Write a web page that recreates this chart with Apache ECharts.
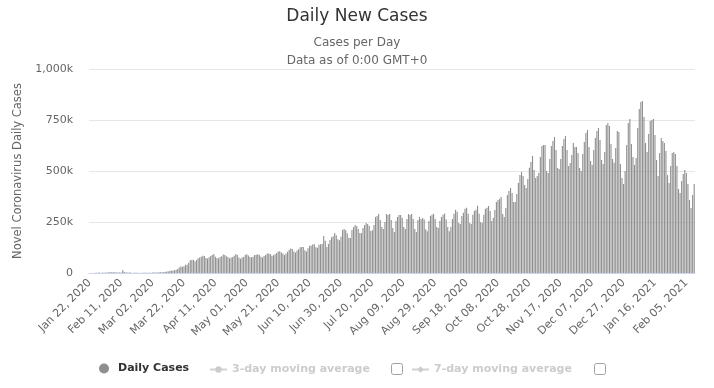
<!DOCTYPE html>
<html><head><meta charset="utf-8">
<script src="https://cdn.jsdelivr.net/npm/echarts@6/dist/echarts.min.js"></script>
<style>html,body{margin:0;padding:0;background:#fff}#c{width:714px;height:388px}</style>
</head><body><div id="c"></div>
<script>
// Daily new cases, in thousands, one value per day starting Jan 22, 2020
const cases2020Jan = [0, 0.1, 0.3, 0.5, 0.7, 0.8, 2.7, 0.6, 2.1, 1.7];
const cases2020Feb = [2.1, 2.6, 3.1, 4.0, 3.7, 3.2, 3.5, 2.7, 3.0, 2.5, 2.0, 13.0, 5.5, 2.7, 2.1, 2.1, 1.9, 0.5, 0.9, 1.0, 1.0, 0.6, 0.6, 0.9, 1.0, 1.2, 1.4, 1.8, 1.8];
const cases2020Mar = [1.7, 1.9, 2.4, 2.2, 2.8, 3.9, 3.9, 4.2, 4.0, 4.5, 7.4, 7.6, 10.9, 11.0, 12.0, 14.0, 16.0, 19.7, 27.0, 32.0, 31.0, 33.0, 40.0, 41.0, 49.0, 62.0, 64.0, 65.0, 58.0, 63.0, 72.0];
const cases2020Apr = [76, 80, 84, 83, 74, 71, 77, 83, 88, 93, 80, 74, 72, 78, 82, 91, 88, 82, 78, 72, 76, 78, 85, 93, 88, 76, 70, 76, 79, 88];
const cases2020May = [92, 86, 78, 77, 80, 88, 90, 92, 88, 80, 76, 83, 88, 96, 96, 93, 85, 87, 92, 98, 106, 107, 100, 95, 88, 95, 104, 114, 120, 118, 106];
const cases2020Jun = [100, 110, 117, 126, 127, 128, 111, 105, 121, 133, 134, 140, 141, 126, 124, 139, 141, 142, 181, 158, 128, 142, 162, 175, 180, 196, 185, 165, 160, 178];
const cases2020Jul = [211, 216, 210, 195, 172, 172, 211, 225, 235, 230, 216, 196, 196, 220, 235, 245, 240, 230, 206, 210, 235, 274, 280, 289, 260, 225, 216, 250, 289, 284, 289];
const cases2020Aug = [260, 221, 201, 255, 275, 284, 284, 271, 225, 216, 265, 289, 284, 289, 265, 216, 201, 260, 275, 265, 270, 262, 215, 205, 255, 280, 285, 290, 265, 225, 220];
const cases2020Sep = [255, 275, 285, 292, 262, 225, 205, 225, 265, 290, 310, 300, 245, 240, 280, 295, 315, 320, 290, 245, 240, 285, 305, 310, 330, 290, 250, 245, 285, 315];
const cases2020Oct = [320, 328, 304, 255, 270, 309, 348, 358, 363, 373, 289, 275, 319, 382, 402, 417, 392, 348, 348, 387, 441, 480, 495, 476, 431, 417, 461, 516, 544, 574, 505];
const cases2020Nov = [466, 476, 490, 569, 623, 627, 627, 500, 490, 559, 623, 647, 667, 603, 515, 510, 559, 623, 657, 672, 603, 525, 539, 578, 637, 618, 618, 588, 515, 500];
const cases2020Dec = [583, 642, 686, 701, 618, 549, 529, 603, 662, 696, 711, 652, 554, 534, 593, 725, 735, 720, 632, 559, 541, 613, 696, 691, 534, 466, 436, 500, 627, 735, 755];
const cases2021Jan = [632, 569, 529, 564, 711, 804, 838, 843, 765, 637, 593, 681, 745, 750, 755, 676, 554, 475, 588, 662, 647, 637, 598, 480, 441, 524, 588, 593, 583, 524, 412];
const cases2021Feb = [392, 451, 485, 505, 490, 436, 358, 319, 382, 436];

const monthNames = ['Jan','Feb','Mar','Apr','May','Jun','Jul','Aug','Sep','Oct','Nov','Dec'];
const seriesNames = ['Daily Cases', '3-day moving average', '7-day moving average'];

const dailyCases = [].concat(cases2020Jan, cases2020Feb, cases2020Mar, cases2020Apr, cases2020May,
  cases2020Jun, cases2020Jul, cases2020Aug, cases2020Sep, cases2020Oct, cases2020Nov, cases2020Dec,
  cases2021Jan, cases2021Feb);

const categories = dailyCases.map((_, i) => {
  const d = new Date(Date.UTC(2020, 0, 22 + i));
  return monthNames[d.getUTCMonth()] + ' ' + String(d.getUTCDate()).padStart(2, '0') + ', ' + d.getUTCFullYear();
});

const FONT = 'DejaVu Sans';
const chart = echarts.init(document.getElementById('c'), null, {renderer: 'canvas'});
chart.setOption({
  animation: false,
  backgroundColor: '#fff',
  textStyle: {fontFamily: FONT},
  title: [
    {text: 'Daily New Cases', left: 'center', top: 3, textStyle: {fontFamily: FONT, fontSize: 17, fontWeight: 'normal', color: '#333'}},
    {text: 'Cases per Day', left: 'center', top: 32, textStyle: {fontFamily: FONT, fontSize: 12, fontWeight: 'normal', color: '#666'}},
    {text: 'Data as of 0:00 GMT+0', left: 'center', top: 50, textStyle: {fontFamily: FONT, fontSize: 12, fontWeight: 'normal', color: '#666'}}
  ],
  grid: {left: 89, right: 19, top: 69, bottom: 115, containLabel: false},
  xAxis: {
    type: 'category',
    data: categories,
    boundaryGap: true,
    axisLine: {lineStyle: {color: '#ccd6eb'}},
    axisTick: {show: false},
    axisLabel: {interval: 19, rotate: 45, color: '#666', fontSize: 11, fontFamily: FONT, margin: 8}
  },
  yAxis: {
    type: 'value', min: 0, max: 1000, interval: 250,
    name: 'Novel Coronavirus Daily Cases', nameLocation: 'middle', nameGap: 57,
    nameTextStyle: {color: '#666', fontSize: 11.5, fontFamily: FONT},
    axisLine: {show: false}, axisTick: {show: false},
    axisLabel: {color: '#666', fontSize: 11, fontFamily: FONT, margin: 16,
      formatter: v => v === 0 ? '0' : v.toLocaleString('en-US') + 'k'},
    splitLine: {lineStyle: {color: '#e6e6e6'}}
  },
  legend: [
    {data: [seriesNames[0]], left: 99, top: 363, padding: 0, itemWidth: 18, itemHeight: 10, icon: 'circle',
     textStyle: {fontFamily: FONT, fontSize: 11, fontWeight: 'bold', color: '#333'}},
    {data: [seriesNames[1]], left: 209, top: 364, padding: 0, itemWidth: 17, itemHeight: 8, inactiveColor: '#ccc',
     textStyle: {fontFamily: FONT, fontSize: 11, fontWeight: 'bold', color: '#333'}},
    {data: [seriesNames[2]], left: 411, top: 364, padding: 0, itemWidth: 17, itemHeight: 8, inactiveColor: '#ccc',
     textStyle: {fontFamily: FONT, fontSize: 11, fontWeight: 'bold', color: '#333'}}
  ],
  graphic: [
    {type: 'rect', shape: {x: 391.5, y: 363.5, width: 11, height: 11, r: 2}, style: {fill: '#fff', stroke: '#a0a0a0', lineWidth: 1}},
    {type: 'rect', shape: {x: 594.5, y: 363.5, width: 11, height: 11, r: 2}, style: {fill: '#fff', stroke: '#a0a0a0', lineWidth: 1}}
  ],
  series: [
    {name: seriesNames[0], type: 'bar', data: dailyCases, barWidth: 1.1, itemStyle: {color: '#8f8f8f'}},
    {name: seriesNames[1], type: 'line', data: [], symbol: 'circle', itemStyle: {color: '#999'}},
    {name: seriesNames[2], type: 'line', data: [], symbol: 'diamond', itemStyle: {color: '#999'}}
  ]
});
chart.dispatchAction({type: 'legendUnSelect', name: seriesNames[1]});
chart.dispatchAction({type: 'legendUnSelect', name: seriesNames[2]});
</script></body></html>
